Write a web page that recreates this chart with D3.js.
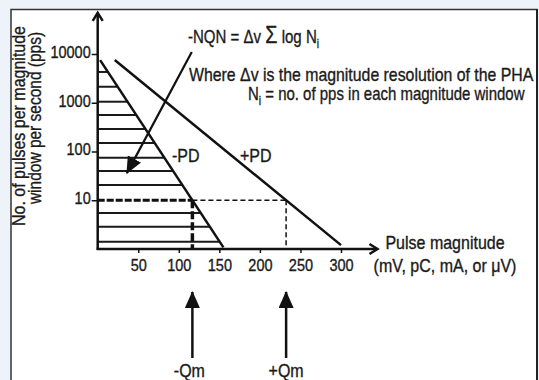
<!DOCTYPE html>
<html>
<head>
<meta charset="utf-8">
<script src="https://cdn.jsdelivr.net/npm/d3@7"></script>
<style>
  body { margin: 0; background: #eef3f9; }
  text { font-family: "Liberation Sans", Arial, sans-serif; fill: #1a1a1a; stroke: #1a1a1a; stroke-width: 0.3px; }
</style>
</head>
<body>
<div id="chart"></div>
<script>
// data
var xTicks = [50, 100, 150, 200, 250, 300];
var yTicks = [10, 100, 1000, 10000];
// the two pulse distributions, magnitude vs pps
var negPD = [{x: 3, y: 7500}, {x: 155, y: 1.08}];
var posPD = [{x: 21, y: 7500}, {x: 300, y: 1.2}];
// horizontal hatch levels under -PD (pps)
var hatchLevels = [1.41, 2.87, 5.5, 20.6, 39.8, 74.6, 149, 290, 561, 1050, 2130, 4280];
var qmLevel = 10;
// arrow pointing from the formula into the hatched area
var nqnArrow = [{x: 116, y: 11000}, {x: 36, y: 36}];

var W = 539, H = 380;
var SY = 1.15; // glyphs in the picture are a bit taller than wide

var svg = d3.select("#chart")
  .append("svg")
    .attr("width", W)
    .attr("height", H);

// frame
svg.append("rect")
  .attr("x", 11).attr("y", 9.5)
  .attr("width", 526).attr("height", 390)
  .style("fill", "white")
  .style("stroke", "#333")
  .style("stroke-width", 1.5);
svg.append("line")
  .attr("x1", 537).attr("x2", 537).attr("y1", 9).attr("y2", H)
  .style("stroke", "#222").style("stroke-width", 2);

// scales
var x = d3.scaleLinear()
  .domain([0, 300])
  .range([97.7, 341]);
var y = d3.scaleLog()
  .domain([1, 10000])
  .range([249, 54]);

var x0 = x(0), y0 = y(1);

// where a line crosses a level (straight in log space)
function xAtLevel(line, level) {
  var a = line[0], b = line[1];
  var t = (Math.log(a.y) - Math.log(level)) / (Math.log(a.y) - Math.log(b.y));
  return a.x + t * (b.x - a.x);
}
var negQm = xAtLevel(negPD, qmLevel);
var posQm = xAtLevel(posPD, qmLevel);

// text helper, optional fit to a width
function addText(px, py, size, anchor) {
  var g = svg.append("g").attr("transform", "translate(" + px + "," + py + ") scale(1," + SY + ")");
  return g.append("text")
    .attr("text-anchor", anchor || "start")
    .style("font-size", size + "px");
}
function fit(t, px, py, width) {
  var w = t.node().getBBox().width;
  d3.select(t.node().parentNode)
    .attr("transform", "translate(" + px + "," + py + ") scale(" + (width / w) + "," + SY + ")");
}

// arrow marker
var defs = svg.append("defs");
defs.append("marker")
  .attr("id", "head")
  .attr("viewBox", "0 0 17 15")
  .attr("refX", 16).attr("refY", 7.5)
  .attr("markerWidth", 17).attr("markerHeight", 15)
  .attr("markerUnits", "userSpaceOnUse")
  .attr("orient", "auto")
  .append("path")
    .attr("d", "M0,0 L17,7.5 L0,15 Z")
    .style("fill", "#111");

// hatching under -PD
svg.append("g")
  .selectAll("line")
  .data(hatchLevels)
  .enter()
  .append("line")
    .attr("x1", x0)
    .attr("x2", function(d) { return x(xAtLevel(negPD, d)); })
    .attr("y1", function(d) { return y(d); })
    .attr("y2", function(d) { return y(d); })
    .style("stroke", "#1a1a1a")
    .style("stroke-width", 2);

// dashed guides at the Qm level
svg.append("line")
  .attr("x1", x0).attr("x2", x(negQm))
  .attr("y1", y(qmLevel)).attr("y2", y(qmLevel))
  .style("stroke", "#111").style("stroke-width", 3.2)
  .style("stroke-dasharray", "7,2");
svg.append("line")
  .attr("x1", x(negQm)).attr("x2", x(posQm))
  .attr("y1", y(qmLevel)).attr("y2", y(qmLevel))
  .style("stroke", "#111").style("stroke-width", 1.5)
  .style("stroke-dasharray", "5,3");
svg.append("line")
  .attr("x1", x(negQm)).attr("x2", x(negQm))
  .attr("y1", y(qmLevel)).attr("y2", y0)
  .style("stroke", "#111").style("stroke-width", 3.5)
  .style("stroke-dasharray", "8,3");
svg.append("line")
  .attr("x1", x(posQm)).attr("x2", x(posQm))
  .attr("y1", y(qmLevel)).attr("y2", y0)
  .style("stroke", "#111").style("stroke-width", 1.5)
  .style("stroke-dasharray", "5,3");

// the two distributions
var pdLine = d3.line()
  .x(function(d) { return x(d.x); })
  .y(function(d) { return y(d.y); });
[negPD, posPD].forEach(function(s) {
  svg.append("path")
    .datum(s)
    .attr("d", pdLine)
    .style("fill", "none")
    .style("stroke", "#111")
    .style("stroke-width", 2.5);
});

// Y axis ticks
var gy = svg.append("g")
  .attr("transform", "translate(" + x0 + ",0)")
  .call(d3.axisLeft(y).tickValues(yTicks).tickFormat(d3.format("d")).tickSize(6).tickPadding(1));
gy.select(".domain").remove();
gy.selectAll("line").style("stroke", "#111").style("stroke-width", 1.5);
gy.selectAll("text")
  .attr("dy", "0.2em")
  .attr("transform", "scale(1," + SY + ")")
  .style("font-size", "14.5px")
  .style("font-family", "'Liberation Sans', Arial, sans-serif")
  .style("fill", "#1a1a1a");

// X axis ticks
var gx = svg.append("g")
  .attr("transform", "translate(0," + y0 + ")")
  .call(d3.axisBottom(x).tickValues(xTicks).tickSize(4).tickPadding(5));
gx.select(".domain").remove();
gx.selectAll("line").style("stroke", "#111").style("stroke-width", 1.5);
gx.selectAll("text")
  .attr("transform", "scale(1," + SY + ")")
  .style("font-size", "14.5px")
  .style("font-family", "'Liberation Sans', Arial, sans-serif")
  .style("fill", "#1a1a1a");

// axis lines with open arrow tips
var yTop = 70000, xEnd = 345;
svg.append("line")
  .attr("x1", x0).attr("x2", x0).attr("y1", y0 + 1).attr("y2", y(yTop))
  .style("stroke", "#111").style("stroke-width", 2.5);
svg.append("line")
  .attr("x1", x0 - 1).attr("x2", x(xEnd)).attr("y1", y0).attr("y2", y0)
  .style("stroke", "#111").style("stroke-width", 2.5);
svg.append("polyline")
  .attr("points", [[x0 - 5, y(yTop) + 8], [x0, y(yTop)], [x0 + 5, y(yTop) + 8]].join(" "))
  .style("fill", "none").style("stroke", "#111").style("stroke-width", 2.5);
svg.append("polyline")
  .attr("points", [[x(xEnd) - 8, y0 - 5], [x(xEnd), y0], [x(xEnd) - 8, y0 + 5]].join(" "))
  .style("fill", "none").style("stroke", "#111").style("stroke-width", 2.5);

// formula arrow
svg.append("line")
  .attr("x1", x(nqnArrow[0].x)).attr("y1", y(nqnArrow[0].y))
  .attr("x2", x(nqnArrow[1].x)).attr("y2", y(nqnArrow[1].y))
  .attr("marker-end", "url(#head)")
  .style("stroke", "#111").style("stroke-width", 2.2);

// Qm arrows below the axis
[{v: negQm, label: "-Qm", dx: -3}, {v: posQm, label: "+Qm", dx: 0}].forEach(function(q) {
  svg.append("line")
    .attr("x1", x(q.v)).attr("x2", x(q.v))
    .attr("y1", y0 + 109).attr("y2", y0 + 43)
    .attr("marker-end", "url(#head)")
    .style("stroke", "#111").style("stroke-width", 2.5);
  addText(x(q.v) + q.dx, y0 + 128, 16, "middle").text(q.label);
});

// labels
addText(172, 162, 16).text("-PD");
addText(240, 162, 16).text("+PD");

var f = addText(188, 43, 16);
f.append("tspan").text("-NQN = \u0394v ");
f.append("tspan").style("font-size", "21px").text("\u03A3");
f.append("tspan").text(" log N");
f.append("tspan").attr("dy", 4).style("font-size", "11px").text("i");
fit(f, 188, 43, 131);

var w1 = addText(189, 81, 16).text("Where \u0394v is the magnitude resolution of the PHA");
fit(w1, 189, 81, 345);
var n = addText(248, 100, 16);
n.append("tspan").text("N");
n.append("tspan").attr("dy", 4).style("font-size", "11px").text("i");
n.append("tspan").attr("dy", -4).text(" = no. of pps in each magnitude window");
fit(n, 248, 100, 277);

addText(445, 249, 16, "middle").text("Pulse magnitude");
addText(445, 272, 16, "middle").text("(mV, pC, mA, or \u03BCV)");

// Y title, two lines
svg.append("text")
  .attr("transform", "translate(25,126) rotate(-90) scale(1," + SY + ")")
  .attr("text-anchor", "middle")
  .style("font-size", "16px")
  .text("No. of pulses per magnitude");
svg.append("text")
  .attr("transform", "translate(41,118) rotate(-90) scale(1," + SY + ")")
  .attr("text-anchor", "middle")
  .style("font-size", "15.5px")
  .text("window per second (pps)");
</script>
</body>
</html>
